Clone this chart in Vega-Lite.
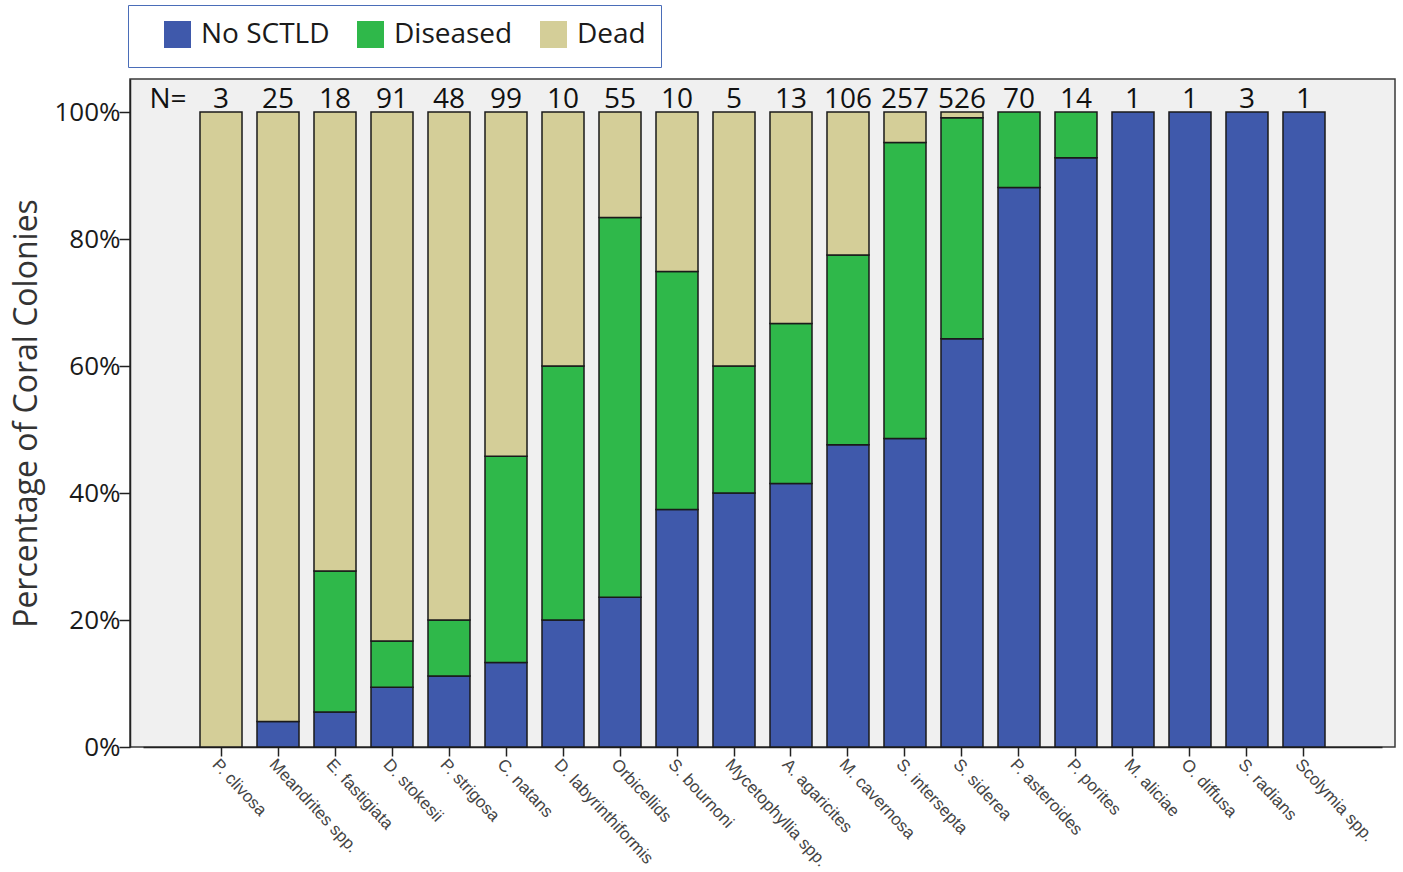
{
  "$schema": "https://vega.github.io/schema/vega-lite/v6.json",
  "width": 1265,
  "height": 668,
  "autosize": "none",
  "padding": {"left": 130, "top": 79, "right": 8, "bottom": 125},
  "background": "white",
  "config": {
    "view": {"fill": "#f0f0f0", "stroke": "#3a3a3a", "strokeWidth": 1.5},
    "font": "Open Sans"
  },
  "datasets": {
    "bars": [
      {"species": "P. clivosa", "status": "Dead", "k": 2, "pct": 100},
      {"species": "Meandrites spp.", "status": "No SCTLD", "k": 0, "pct": 4},
      {"species": "Meandrites spp.", "status": "Dead", "k": 2, "pct": 96},
      {"species": "E. fastigiata", "status": "No SCTLD", "k": 0, "pct": 5.5},
      {"species": "E. fastigiata", "status": "Diseased", "k": 1, "pct": 22.2},
      {"species": "E. fastigiata", "status": "Dead", "k": 2, "pct": 72.3},
      {"species": "D. stokesii", "status": "No SCTLD", "k": 0, "pct": 9.4},
      {"species": "D. stokesii", "status": "Diseased", "k": 1, "pct": 7.3},
      {"species": "D. stokesii", "status": "Dead", "k": 2, "pct": 83.3},
      {"species": "P. strigosa", "status": "No SCTLD", "k": 0, "pct": 11.2},
      {"species": "P. strigosa", "status": "Diseased", "k": 1, "pct": 8.8},
      {"species": "P. strigosa", "status": "Dead", "k": 2, "pct": 80},
      {"species": "C. natans", "status": "No SCTLD", "k": 0, "pct": 13.3},
      {"species": "C. natans", "status": "Diseased", "k": 1, "pct": 32.5},
      {"species": "C. natans", "status": "Dead", "k": 2, "pct": 54.2},
      {"species": "D. labyrinthiformis", "status": "No SCTLD", "k": 0, "pct": 20},
      {"species": "D. labyrinthiformis", "status": "Diseased", "k": 1, "pct": 40},
      {"species": "D. labyrinthiformis", "status": "Dead", "k": 2, "pct": 40},
      {"species": "Orbicellids", "status": "No SCTLD", "k": 0, "pct": 23.6},
      {"species": "Orbicellids", "status": "Diseased", "k": 1, "pct": 59.8},
      {"species": "Orbicellids", "status": "Dead", "k": 2, "pct": 16.6},
      {"species": "S. bournoni", "status": "No SCTLD", "k": 0, "pct": 37.4},
      {"species": "S. bournoni", "status": "Diseased", "k": 1, "pct": 37.5},
      {"species": "S. bournoni", "status": "Dead", "k": 2, "pct": 25.1},
      {"species": "Mycetophyllia spp.", "status": "No SCTLD", "k": 0, "pct": 40},
      {"species": "Mycetophyllia spp.", "status": "Diseased", "k": 1, "pct": 20},
      {"species": "Mycetophyllia spp.", "status": "Dead", "k": 2, "pct": 40},
      {"species": "A. agaricites", "status": "No SCTLD", "k": 0, "pct": 41.5},
      {"species": "A. agaricites", "status": "Diseased", "k": 1, "pct": 25.2},
      {"species": "A. agaricites", "status": "Dead", "k": 2, "pct": 33.3},
      {"species": "M. cavernosa", "status": "No SCTLD", "k": 0, "pct": 47.6},
      {"species": "M. cavernosa", "status": "Diseased", "k": 1, "pct": 29.9},
      {"species": "M. cavernosa", "status": "Dead", "k": 2, "pct": 22.5},
      {"species": "S. intersepta", "status": "No SCTLD", "k": 0, "pct": 48.6},
      {"species": "S. intersepta", "status": "Diseased", "k": 1, "pct": 46.6},
      {"species": "S. intersepta", "status": "Dead", "k": 2, "pct": 4.8},
      {"species": "S. siderea", "status": "No SCTLD", "k": 0, "pct": 64.3},
      {"species": "S. siderea", "status": "Diseased", "k": 1, "pct": 34.8},
      {"species": "S. siderea", "status": "Dead", "k": 2, "pct": 0.9},
      {"species": "P. asteroides", "status": "No SCTLD", "k": 0, "pct": 88.1},
      {"species": "P. asteroides", "status": "Diseased", "k": 1, "pct": 11.9},
      {"species": "P. porites", "status": "No SCTLD", "k": 0, "pct": 92.8},
      {"species": "P. porites", "status": "Diseased", "k": 1, "pct": 7.2},
      {"species": "M. aliciae", "status": "No SCTLD", "k": 0, "pct": 100},
      {"species": "O. diffusa", "status": "No SCTLD", "k": 0, "pct": 100},
      {"species": "S. radians", "status": "No SCTLD", "k": 0, "pct": 100},
      {"species": "Scolymia spp.", "status": "No SCTLD", "k": 0, "pct": 100}
    ],
    "counts": [
      {"species": "P. clivosa", "n": 3},
      {"species": "Meandrites spp.", "n": 25},
      {"species": "E. fastigiata", "n": 18},
      {"species": "D. stokesii", "n": 91},
      {"species": "P. strigosa", "n": 48},
      {"species": "C. natans", "n": 99},
      {"species": "D. labyrinthiformis", "n": 10},
      {"species": "Orbicellids", "n": 55},
      {"species": "S. bournoni", "n": 10},
      {"species": "Mycetophyllia spp.", "n": 5},
      {"species": "A. agaricites", "n": 13},
      {"species": "M. cavernosa", "n": 106},
      {"species": "S. intersepta", "n": 257},
      {"species": "S. siderea", "n": 526},
      {"species": "P. asteroides", "n": 70},
      {"species": "P. porites", "n": 14},
      {"species": "M. aliciae", "n": 1},
      {"species": "O. diffusa", "n": 1},
      {"species": "S. radians", "n": 3},
      {"species": "Scolymia spp.", "n": 1}
    ],
    "nlabel": [
      {"species": "P. clivosa", "label": "N="}
    ]
  },
  "encoding": {
    "x": {
      "field": "species",
      "type": "nominal",
      "scale": {
        "domain": ["P. clivosa", "Meandrites spp.", "E. fastigiata", "D. stokesii", "P. strigosa", "C. natans", "D. labyrinthiformis", "Orbicellids", "S. bournoni", "Mycetophyllia spp.", "A. agaricites", "M. cavernosa", "S. intersepta", "S. siderea", "P. asteroides", "P. porites", "M. aliciae", "O. diffusa", "S. radians", "Scolymia spp."],
        "paddingInner": 0.263,
        "paddingOuter": 1,
        "range": [13, 1252]
      },
      "axis": {
        "title": null,
        "labelAngle": 47,
        "labelAlign": "left",
        "labelBaseline": "top",
        "labelFont": "Liberation Sans",
        "labelFontSize": 17,
        "labelColor": "#444444",
        "labelPadding": 0,
        "labelOverlap": false,
        "labelLimit": 300,
        "tickSize": 9,
        "tickColor": "#222222",
        "tickWidth": 1.5,
        "domainColor": "#222222",
        "domainWidth": 1.5,
        "grid": false
      }
    }
  },
  "layer": [
    {
      "data": {"name": "bars"},
      "mark": {"type": "bar", "stroke": "#1a1a1a", "strokeWidth": 1.5},
      "encoding": {
        "y": {
          "field": "pct",
          "type": "quantitative",
          "stack": "zero",
          "scale": {"domain": [0, 105.2], "nice": false, "zero": true},
          "axis": {
            "title": "Percentage of Coral Colonies",
            "titleFontSize": 32,
            "titleFontWeight": "normal",
            "titleColor": "#333333",
            "titlePadding": 10,
            "values": [0, 20, 40, 60, 80, 100],
            "labelExpr": "datum.value + '%'",
            "labelFontSize": 26,
            "labelColor": "#1a1a1a",
            "labelPadding": -1,
            "tickSize": 11,
            "tickColor": "#222222",
            "tickWidth": 1.5,
            "domainColor": "#222222",
            "domainWidth": 1.5,
            "grid": false
          }
        },
        "color": {
          "field": "status",
          "type": "nominal",
          "scale": {
            "domain": ["No SCTLD", "Diseased", "Dead"],
            "range": ["#3f59ab", "#2fb84a", "#d4ce98"]
          },
          "legend": {
            "title": null,
            "orient": "none",
            "legendX": -2,
            "legendY": -74,
            "direction": "horizontal",
            "symbolType": "square",
            "symbolSize": 729,
            "symbolStrokeColor": "#1a1a1a",
            "symbolStrokeWidth": 2,
            "symbolOpacity": 1,
            "symbolOffset": 20,
            "labelFontSize": 28,
            "labelColor": "#1a1a1a",
            "labelOffset": 9,
            "labelLimit": 300,
            "columnPadding": 6,
            "padding": 15,
            "strokeColor": "#4a6db8",
            "fillColor": "white",
            "encode": {
              "symbols": {
                "update": {
                  "fill": {"signal": "datum.value === 'No SCTLD' ? '#1670c4' : datum.value === 'Diseased' ? '#00b050' : '#c4b98a'"},
                  "opacity": {"value": 1}
                }
              }
            }
          }
        },
        "order": {"field": "k", "type": "quantitative"}
      }
    },
    {
      "data": {"name": "counts"},
      "mark": {"type": "text", "fontSize": 28, "color": "#111111", "baseline": "alphabetic", "dy": -4},
      "encoding": {
        "y": {"datum": 100},
        "text": {"field": "n", "type": "quantitative"}
      }
    },
    {
      "data": {"name": "nlabel"},
      "mark": {"type": "text", "fontSize": 28, "color": "#111111", "baseline": "alphabetic", "dy": -4, "dx": -53},
      "encoding": {
        "y": {"datum": 100},
        "text": {"field": "label", "type": "nominal"}
      }
    }
  ]
}
